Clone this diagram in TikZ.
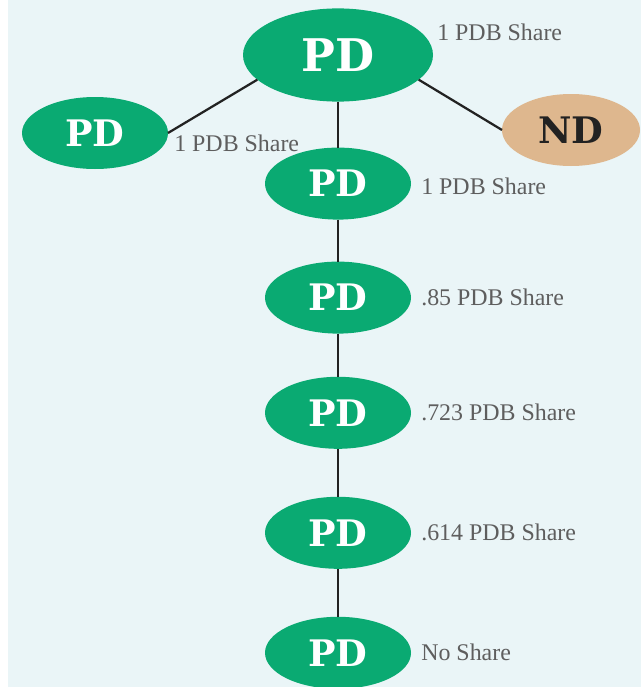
\documentclass[tikz,border=0pt]{standalone}
\usepackage{fontspec}
\setmainfont{Liberation Serif}
\newfontfamily\pdfont{DejaVu Serif}
\usepackage{xcolor}
\usepackage{tikz}
\usetikzlibrary{positioning,shapes}
\definecolor{pdgreen}{HTML}{0AAA72}
\definecolor{ndtan}{HTML}{DEB78E}
\definecolor{bgblue}{HTML}{EAF5F7}
\definecolor{lblgray}{HTML}{5E5E5E}
\definecolor{linkgray}{HTML}{222222}

\begin{document}
\begin{tikzpicture}[node distance=1.1cm,
  pdnode/.style={ellipse,fill=pdgreen,text=white,inner sep=0pt,outer sep=0pt,minimum width=3.65cm,minimum height=1.8cm,font=\pdfont\bfseries\fontsize{26}{30}\selectfont},
  lbl/.style={text=lblgray,inner sep=0pt,font=\fontsize{17}{20}\selectfont},
  link/.style={line width=1.6pt,linkgray}]
  % background with white strip on the left
  \useasboundingbox (0,0) rectangle (16.025,-17.175);
  \fill[white] (0,0) rectangle (16.025,-17.175);
  \fill[bgblue] (0.2,0) rectangle (16.025,-17.175);

  % top node and its two sides
  \node[pdnode,minimum width=4.75cm,minimum height=2.33cm,font=\pdfont\bfseries\fontsize{32}{36}\selectfont] (root) at (8.45,-1.375) {PD};
  \node[pdnode] (leftpd) at (2.375,-3.325) {PD};
  \node[pdnode,fill=ndtan,text=linkgray,minimum width=3.45cm] (nd) at (14.275,-3.25) {ND};

  % chain below the top node
  \node[pdnode,below=1.15cm of root] (pd1) {PD};
  \node[pdnode,below=1.05cm of pd1] (pd2) {PD};
  \node[pdnode,below=1.08cm of pd2] (pd3) {PD};
  \node[pdnode,below=1.2cm of pd3] (pd4) {PD};
  \node[pdnode,below=1.2cm of pd4] (pd5) {PD};

  % share labels
  \node[lbl,anchor=west] (lroot) at (10.925,-0.8) {1 PDB Share};
  \node[lbl,anchor=west] (lleft) at (4.35,-3.575) {1 PDB Share};
  \node[lbl,right=0.25cm of pd1,yshift=-0.07cm] (l1) {1 PDB Share};
  \node[lbl,right=0.25cm of pd2] (l2) {.85 PDB Share};
  \node[lbl,right=0.25cm of pd3] (l3) {.723 PDB Share};
  \node[lbl,right=0.25cm of pd4] (l4) {.614 PDB Share};
  \node[lbl,right=0.25cm of pd5] (l5) {No Share};

  % connections
  \draw[link] (root.197) -- (leftpd.east);
  \draw[link] (root.343) -- (nd.west);
  \draw[link] (root.south) -- (pd1.north);
  \draw[link] (pd1.south) -- (pd2.north);
  \draw[link] (pd2.south) -- (pd3.north);
  \draw[link] (pd3.south) -- (pd4.north);
  \draw[link] (pd4.south) -- (pd5.north);
\end{tikzpicture}
\end{document}
